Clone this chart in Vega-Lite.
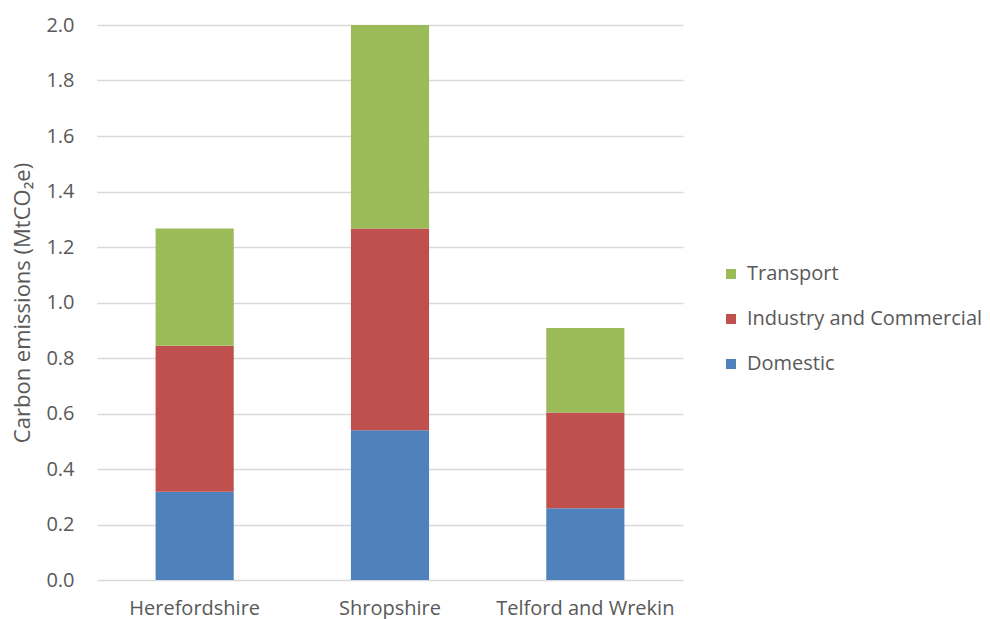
{
  "$schema": "https://vega.github.io/schema/vega-lite/v6.json",
  "autosize": {"type": "none"},
  "padding": {"left": 97, "top": 25, "right": 307, "bottom": 39},
  "width": 586,
  "height": 555,
  "background": "white",
  "config": {
    "font": "Open Sans",
    "view": {"stroke": null},
    "axis": {
      "labelColor": "#595959",
      "titleColor": "#595959",
      "gridColor": "#D9D9D9",
      "gridWidth": 1.3,
      "domain": false,
      "ticks": false
    },
    "legend": {"labelColor": "#595959"}
  },
  "data": {
    "values": [
      {"area": "Herefordshire", "sector": "Domestic", "order": 1, "emissions": 0.318},
      {"area": "Herefordshire", "sector": "Industry and Commercial", "order": 2, "emissions": 0.526},
      {"area": "Herefordshire", "sector": "Transport", "order": 3, "emissions": 0.423},
      {"area": "Shropshire", "sector": "Domestic", "order": 1, "emissions": 0.54},
      {"area": "Shropshire", "sector": "Industry and Commercial", "order": 2, "emissions": 0.727},
      {"area": "Shropshire", "sector": "Transport", "order": 3, "emissions": 0.733},
      {"area": "Telford and Wrekin", "sector": "Domestic", "order": 1, "emissions": 0.259},
      {"area": "Telford and Wrekin", "sector": "Industry and Commercial", "order": 2, "emissions": 0.345},
      {"area": "Telford and Wrekin", "sector": "Transport", "order": 3, "emissions": 0.304}
    ]
  },
  "mark": {"type": "bar"},
  "encoding": {
    "x": {
      "field": "area",
      "type": "nominal",
      "sort": null,
      "scale": {"paddingInner": 0.6, "paddingOuter": 0.3},
      "axis": {
        "title": null,
        "labelAngle": 0,
        "labelFontSize": 20,
        "labelPadding": 18,
        "labelLimit": 0,
        "grid": false
      }
    },
    "y": {
      "field": "emissions",
      "type": "quantitative",
      "stack": "zero",
      "scale": {"domain": [0, 2]},
      "axis": {
        "title": "Carbon emissions  (MtCO₂e)",
        "titleFontSize": 22,
        "titleFontWeight": "normal",
        "titlePadding": 11,
        "values": [0, 0.2, 0.4, 0.6, 0.8, 1.0, 1.2, 1.4, 1.6, 1.8, 2.0],
        "format": ".1f",
        "labelFontSize": 20,
        "labelPadding": 23,
        "grid": true
      }
    },
    "color": {
      "field": "sector",
      "type": "nominal",
      "scale": {
        "domain": ["Transport", "Industry and Commercial", "Domestic"],
        "range": ["#9BBB59", "#C0504D", "#4F81BD"]
      },
      "legend": {
        "title": null,
        "orient": "none",
        "legendX": 624,
        "legendY": 239,
        "symbolType": "square",
        "symbolSize": 100,
        "symbolStrokeWidth": 0,
        "labelFontSize": 20,
        "labelOffset": 6,
        "labelLimit": 0,
        "rowPadding": 25
      }
    },
    "order": {"field": "order", "type": "quantitative"}
  }
}
